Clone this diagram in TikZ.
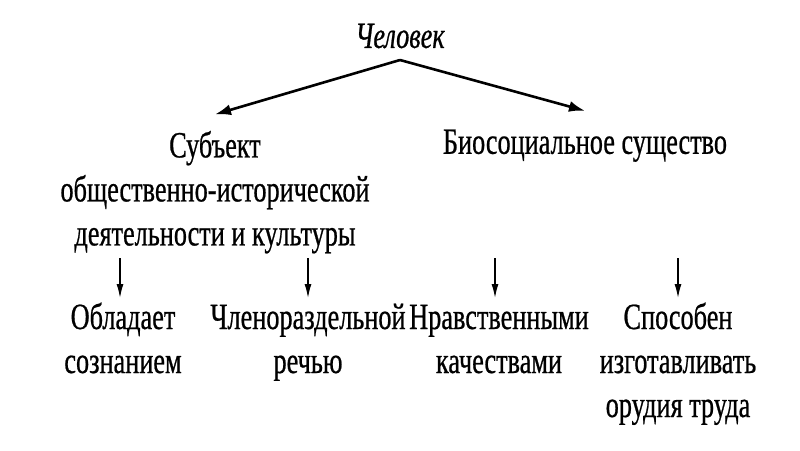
\documentclass[tikz,border=0pt]{standalone}
\usepackage{fontspec}
\setmainfont[FakeStretch=0.71,FakeBold=0.6]{Liberation Serif}
\usetikzlibrary{arrows.meta}

\begin{document}
\begin{tikzpicture}[
  x=1pt, y=-1pt,
  every node/.style={font=\fontsize{37}{44}\selectfont, inner sep=0pt},
  termbox/.style={align=center},
  leafbox/.style={align=center, anchor=north},
  mainarr/.style={-{Latex[length=16pt,width=11pt]}, line width=2.6pt},
  downarr/.style={-{Latex[length=14pt,width=7pt]}, line width=1.4pt}
]
  \useasboundingbox (0,0) rectangle (800,450);
  \node (man) at (400,36) {\itshape Человек};
  \coordinate (apex) at (400,60);
  \node[termbox] (subj) at (215,190) {\strut Субъект\\общественно-исторической\\деятельности и культуры};
  \node[termbox] (bio) at (585,145) {\strut Биосоциальное существо};
  \node[leafbox] (n1) at (123,298) {\strut Обладает\\сознанием};
  \node[leafbox] (n2) at (308,298) {\strut Членораздельной\\речью};
  \node[leafbox] (n3) at (499,298) {\strut Нравственными\\качествами};
  \node[leafbox] (n4) at (678,298) {\strut Способен\\изготавливать\\орудия труда};
  \draw[mainarr] (apex) -- ([yshift=12pt]subj.north);
  \draw[mainarr] (apex) -- ([yshift=12pt]bio.north);
  \draw[downarr] ([xshift=-3pt,yshift=40pt]n1.north) -- ([xshift=-3pt]n1.north);
  \draw[downarr] ([yshift=40pt]n2.north) -- (n2.north);
  \draw[downarr] ([xshift=-4pt,yshift=40pt]n3.north) -- ([xshift=-4pt]n3.north);
  \draw[downarr] ([yshift=40pt]n4.north) -- (n4.north);
\end{tikzpicture}
\end{document}
